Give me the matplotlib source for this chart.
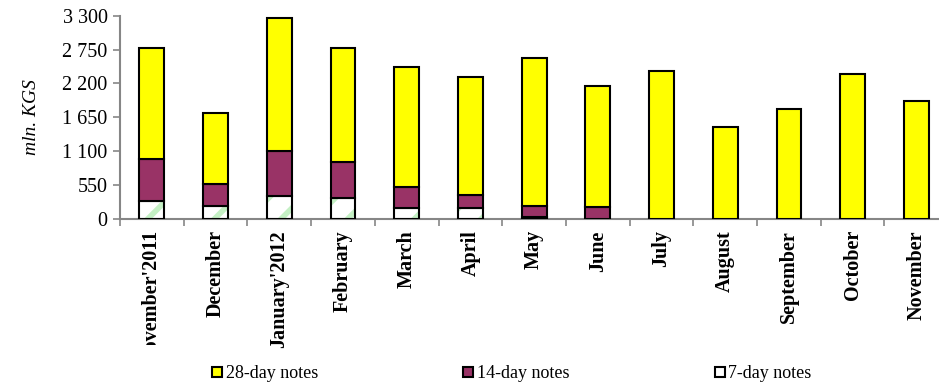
import matplotlib.pyplot as plt
from matplotlib.patches import Patch, Rectangle
from matplotlib.ticker import FuncFormatter, MultipleLocator, FixedLocator

plt.rcParams['font.family'] = ['Liberation Serif', 'DejaVu Serif']
plt.rcParams['hatch.linewidth'] = 4

# --- Data: placements of notes by month, mln. KGS ---
months = ["November'2011", "December", "January'2012", "February", "March",
          "April", "May", "June", "July", "August", "September", "October",
          "November"]
notes_7 = [287, 206, 373, 346, 183, 183, 40, 0, 0, 0, 0, 0, 0]
notes_14 = [692, 357, 736, 579, 341, 207, 171, 200, 0, 0, 0, 0, 0]
notes_28 = [1801, 1163, 2159, 1846, 1944, 1920, 2408, 1964, 2403, 1498, 1786, 2359, 1911]

yellow = '#FFFF00'
purple = '#993366'
green = '#C4F0C4'
spine_gray = '#868686'

fig = plt.figure(figsize=(9.39, 3.87), dpi=100)
ax = fig.add_axes([0.1278, 0.434, 0.882, 0.5254])

x = list(range(len(months)))
w = 0.39
bottom_14 = notes_7
bottom_28 = [a + b for a, b in zip(notes_7, notes_14)]

# 7-day notes: white with light green stripes, outlined separately in black
ax.bar(x, notes_7, w, color='white', edgecolor=green, hatch='/', linewidth=0, zorder=2)
ax.bar(x, notes_7, w, facecolor='none', edgecolor='black', linewidth=1.5, zorder=3)
ax.bar(x, notes_14, w, bottom=bottom_14, color=purple, edgecolor='black', linewidth=1.5, zorder=3)
ax.bar(x, notes_28, w, bottom=bottom_28, color=yellow, edgecolor='black', linewidth=1.5, zorder=3)

ax.set_xlim(-0.5, len(months) - 0.5)
ax.set_ylim(0, 3300)
ax.yaxis.set_major_locator(MultipleLocator(550))
ax.yaxis.set_major_formatter(FuncFormatter(lambda v, p: f"{int(v):,}".replace(',', ' ')))

ax.set_xticks(x)
ax.set_xticklabels(months, rotation=90, fontsize=14.5, fontweight='bold')
ax.xaxis.set_minor_locator(FixedLocator([i + 0.5 for i in range(-1, len(months))]))
ax.tick_params(axis='x', which='major', length=0, pad=8)
ax.tick_params(axis='x', which='minor', length=5, width=1.2, color=spine_gray, direction='out')
ax.tick_params(axis='y', length=5, width=1.2, color=spine_gray, labelsize=14.5, pad=4)

for side in ('top', 'right'):
    ax.spines[side].set_visible(False)
for side in ('left', 'bottom'):
    ax.spines[side].set_color(spine_gray)
    ax.spines[side].set_linewidth(1.5)

ax.set_ylabel('mln. KGS', fontsize=14, fontstyle='italic', labelpad=16)

# the first, long label is cut off at the bottom of the label area
clip = Rectangle((0, 1 - 345 / 387), 1, 1, transform=fig.transFigure)
first = ax.get_xticklabels()[0]
first.set_clip_path(clip)
first.set_clip_on(True)

handles = [Patch(facecolor=yellow, edgecolor='black', linewidth=1.5),
           Patch(facecolor=purple, edgecolor='black', linewidth=1.5),
           Patch(facecolor='white', edgecolor='black', linewidth=1.5)]
fig.legend(handles, ['28-day notes', '14-day notes', '7-day notes'],
           loc='center left', bbox_to_anchor=(0.226, 0.034), ncol=3, frameon=False,
           fontsize=13, handlelength=0.55, handleheight=0.55, handletextpad=0.2,
           columnspacing=8.05, borderaxespad=0, borderpad=0)

fig.savefig('out.png', dpi=100)
